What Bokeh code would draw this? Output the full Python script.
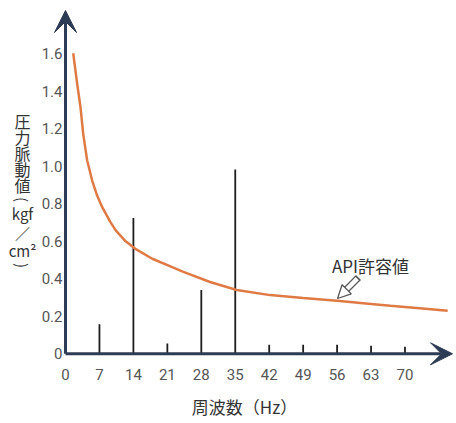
import math
from bokeh.plotting import figure
from bokeh.models import Arrow, VeeHead, NormalHead, Label, FixedTicker, Range1d
from bokeh.embed import file_html
from bokeh.resources import INLINE

# ---- data ----
bar_hz = [7, 14, 21, 28, 35, 42, 49, 56, 63, 70]
bar_val = [0.158, 0.724, 0.055, 0.34, 0.983, 0.048, 0.048, 0.048, 0.043, 0.037]

curve_hz = [1.59, 2.41, 3.09, 3.65, 4.47, 5.5, 6.5, 7.57, 9.2, 10.4, 12.4, 14.4,
            17.9, 22.0, 24.3, 29.8, 35.3, 42.2, 49.0, 56.0, 63.0, 67.0, 73.0, 78.8]
curve_val = [1.603, 1.44, 1.315, 1.173, 1.031, 0.924, 0.845, 0.782, 0.705, 0.657, 0.60, 0.56,
             0.507, 0.462, 0.437, 0.383, 0.34, 0.313, 0.297, 0.283, 0.266, 0.256, 0.243, 0.229]

x_ticks = [0, 7, 14, 21, 28, 35, 42, 49, 56, 63, 70]
y_ticks = [0, 0.2, 0.4, 0.6, 0.8, 1.0, 1.2, 1.4, 1.6]
y_tick_labels = ["0", "0.2", "0.4", "0.6", "0.8", "1.0", "1.2", "1.4", "1.6"]

x_title = "周波数（Hz）"
y_title_chars = ["圧", "力", "脈", "動", "値"]
y_unit_parts = ["(", "kgf", "／", "cm²", ")"]
curve_name = "API許容値"

NAVY = "#2d3c55"
ORANGE = "#e07a45"
CJK = "Noto Sans CJK JP"
NUM = "Roboto"

W, H = 456, 423
PX_X, PX_Y = 4.85, 187.5      # pixels per Hz, pixels per kgf/cm2
ORIG_X, ORIG_Y = 65, 353.3    # origin position in figure pixels (from top-left)

X_START = -ORIG_X / PX_X
X_END = (W - ORIG_X) / PX_X
Y_START = -(H - ORIG_Y) / PX_Y
Y_END = ORIG_Y / PX_Y
ARROW_TOP = (ORIG_Y - 10) / PX_Y
ARROW_RIGHT = (452 - ORIG_X) / PX_X

p = figure(width=W, height=H, output_backend="svg", toolbar_location=None,
           x_range=Range1d(X_START, X_END), y_range=Range1d(Y_START, Y_END),
           min_border=0)
p.background_fill_color = "white"
p.border_fill_color = "white"
p.outline_line_color = None
p.grid.visible = False

# axes placed at the origin
p.xaxis.fixed_location = 0
p.yaxis.fixed_location = 0
p.xaxis.ticker = FixedTicker(ticks=x_ticks)
p.yaxis.ticker = FixedTicker(ticks=y_ticks)
p.yaxis.major_label_overrides = {t: l for t, l in zip(y_ticks, y_tick_labels)}
for ax in (p.xaxis, p.yaxis):
    ax.axis_line_color = None
    ax.major_tick_line_color = None
    ax.minor_tick_line_color = None
    ax.major_label_text_font = NUM
    ax.major_label_text_font_size = "15px"
    ax.major_label_text_color = "#555555"
    ax.major_tick_out = 0
    ax.major_tick_in = 0
p.xaxis.major_label_standoff = 15
p.yaxis.major_label_standoff = 3

# data
p.segment(x0=bar_hz, y0=[0] * len(bar_hz), x1=bar_hz, y1=bar_val,
          line_width=1.8, line_color="#1e1e1e")
p.line(curve_hz, curve_val, line_color=ORANGE, line_width=2.5)

# axis arrows
p.add_layout(Arrow(end=VeeHead(size=22, fill_color=NAVY, line_color=NAVY),
                   x_start=0, y_start=0, x_end=0, y_end=ARROW_TOP,
                   line_color=NAVY, line_width=3))
p.add_layout(Arrow(end=VeeHead(size=22, fill_color=NAVY, line_color=NAVY),
                   x_start=0, y_start=0, x_end=ARROW_RIGHT, y_end=0,
                   line_color=NAVY, line_width=3))

def dx(ref_x):
    return (ref_x - ORIG_X) / PX_X
def dy(ref_y):
    return (ORIG_Y - ref_y) / PX_Y

# y title (vertical writing)
for ch, ry in zip(y_title_chars, [120, 136, 152, 168, 184]):
    p.add_layout(Label(x=dx(22), y=dy(ry), text=ch, text_font=CJK, text_font_size="16px",
                       text_color="#333333", text_align="center", text_baseline="middle"))
for part, ry, ang in zip(y_unit_parts, [199, 213, 233, 250, 265],
                         [-math.pi / 2, 0, 0, 0, -math.pi / 2]):
    p.add_layout(Label(x=dx(22), y=dy(ry), text=part, text_font=CJK, text_font_size="15px",
                       text_color="#333333", text_align="center", text_baseline="middle",
                       angle=ang))

# x title
p.add_layout(Label(x=dx(244), y=dy(406), text=x_title, text_font=CJK, text_font_size="17px",
                   text_color="#333333", text_align="center", text_baseline="middle"))

# curve label and hollow arrow
p.add_layout(Label(x=dx(370), y=dy(265), text=curve_name, text_font=CJK, text_font_size="17px",
                   text_color="#333333", text_align="center", text_baseline="middle"))
tx, ty = dx(358), dy(277)
hx, hy = dx(337), dy(298)
bx, by = tx + 0.62 * (hx - tx), ty + 0.62 * (hy - ty)
p.add_layout(Arrow(end=None, x_start=tx, y_start=ty, x_end=bx, y_end=by,
                   line_color="#555555", line_width=7))
p.add_layout(Arrow(end=None, x_start=tx - 0.25, y_start=ty - 0.006, x_end=bx, y_end=by,
                   line_color="white", line_width=4.5))
p.add_layout(Arrow(end=NormalHead(size=13, fill_color="white", line_color="#555555", line_width=1.3),
                   x_start=bx, y_start=by, x_end=hx, y_end=hy,
                   line_color=None, line_width=0))

open("out.html", "w").write(file_html(p, INLINE))
